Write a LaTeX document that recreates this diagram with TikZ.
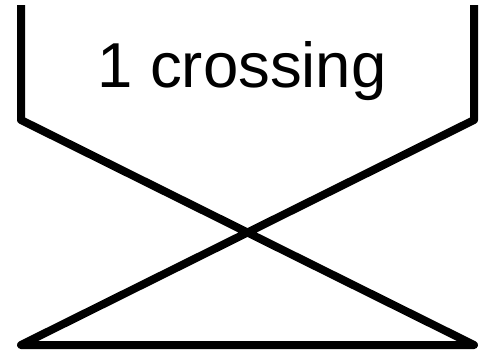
\documentclass[tikz,border=0pt]{standalone}
\usepackage{fontspec}
\setmainfont{Liberation Sans}
\usetikzlibrary{positioning}

\begin{document}
\begin{tikzpicture}[
    x=1pt, y=-1pt,
    strand/.style={
        draw=black,
        line width=8pt,
        line join=round
    },
    caption_text/.style={
        font=\fontsize{63.5}{70}\selectfont,
        anchor=base,
        inner sep=0pt
    }
]
    \useasboundingbox (0,0) rectangle (484,354);

    % Ends and corners
    \coordinate (tl) at (21,5);
    \coordinate (tr) at (474,5);
    \coordinate (ml) at (21,120);
    \coordinate (mr) at (474,120);
    \coordinate (bl) at (21,345);
    \coordinate (br) at (474,345);

    % Label
    \node[caption_text] (lbl) at (242,87) {1 crossing};

    % Strands
    \draw[strand] (tl) -- (ml) -- (br) -- (bl) -- (mr) -- (tr);

\end{tikzpicture}
\end{document}
